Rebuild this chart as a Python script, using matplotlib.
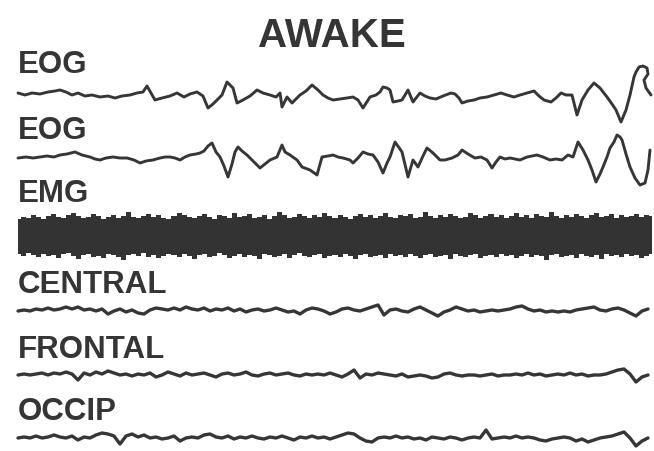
import numpy as np
import matplotlib
matplotlib.use("Agg")
import matplotlib.pyplot as plt

# ---- recorded channels (time in samples, deflection positive = up) ----
eog1_t = [18, 25, 32, 40, 48, 55, 60, 66, 72, 78, 85, 92, 100, 108, 115, 122, 130, 137, 143, 147,
          151, 155, 162, 170, 177, 184, 190, 197, 203, 208, 213, 217, 222, 227, 233, 237, 243, 250,
          257, 263, 270, 276, 280, 282, 287, 292, 300, 306, 312, 318, 323, 328, 333, 340, 347, 353,
          358, 363, 370, 376, 380, 383, 387, 390, 393, 398, 402, 408, 413, 420, 425, 430, 436, 443,
          451, 455, 459, 462, 468, 474, 480, 487, 494, 501, 507, 514, 520, 527, 534, 539, 544, 551,
          556, 561, 566, 572, 577, 582, 588, 594, 600, 607, 612, 616, 621, 626, 630, 634, 636, 639,
          643, 647, 648, 644, 646, 651]
eog1 = [3, 1, 3, 2, 4, 5, 6, 4, 1, 3, 0, 1, -1, 0, -2, 0, 1, 3, 4, 10,
        3, -4, -2, 0, 3, -1, 2, 4, 0, -12, -8, -4, 1, 14, 8, -7, -4, 0,
        6, 3, 1, -1, 3, -11, -1, -7, 1, 5, 11, 6, 1, -2, -4, -3, -2, -1,
        -4, -12, -1, 1, 4, 9, 8, 6, -6, -5, -4, 6, -6, 3, 0, -2, -3, 0,
        3, 2, -2, -7, -5, -4, -2, -1, 1, 3, 1, -1, 1, 3, 5, 0, -4, -6,
        -2, 3, 1, 1, -19, -4, 6, 13, 8, -1, -8, -14, -26, -14, 1, 19, 24, 29,
        30, 28, 22, 16, 8, 1]

eog2_t = [18, 26, 33, 40, 47, 54, 60, 67, 75, 82, 90, 95, 100, 106, 113, 120, 127, 134, 140, 146,
          153, 160, 165, 170, 175, 180, 185, 190, 196, 200, 204, 208, 212, 216, 220, 224, 228, 232,
          235, 238, 242, 247, 253, 260, 265, 270, 277, 282, 285, 290, 297, 302, 310, 317, 322, 328,
          333, 338, 343, 350, 353, 358, 363, 368, 373, 378, 383, 387, 390, 395, 400, 402, 408, 413,
          418, 423, 427, 433, 440, 445, 452, 458, 462, 468, 475, 481, 487, 492, 496, 500, 505, 510,
          515, 520, 527, 532, 537, 543, 550, 556, 562, 568, 573, 578, 583, 588, 592, 596, 600, 603,
          607, 610, 614, 617, 620, 622, 626, 630, 635, 640, 645, 648, 650]
eog2 = [0, 1, 0, 1, 2, 1, 3, 4, 6, 3, 1, -1, -2, 0, 1, 0, 0, -2, -5, -3,
        -2, 0, 1, 1, 0, -2, 1, 3, 4, 5, 7, 12, 15, 6, 1, -8, -19, -6,
        6, 11, 7, 3, -3, -10, -6, -2, 1, 13, 6, 3, -2, -9, -12, -17, 1, 2,
        3, 1, 0, -2, -5, 0, 6, 4, 3, -4, -15, -5, 1, 16, 9, 6, -19, -2,
        -9, 2, 10, 5, -2, -2, 0, 3, 8, 4, 0, 1, -2, -10, -4, 1, -1, 0,
        -1, -2, 1, 2, 3, 1, -2, -1, -2, 3, 1, 16, 8, -2, -12, -24, -16, -9,
        1, 10, 16, 23, 21, 18, 4, -9, -20, -27, -25, -12, 8]

# EMG envelope (upper / lower edge of the tonic muscle activity band)
emg_hi = [17, 19, 18, 21, 19, 17, 20, 22, 19, 18, 21, 23, 20, 18, 19, 22, 20, 17, 19, 21,
          18, 20, 24, 19, 18, 20, 22, 19, 21, 18, 17, 20, 23, 21, 19, 18, 20, 22, 19, 17,
          21, 20, 18, 23, 19, 20, 22, 18, 19, 21, 17, 20, 24, 21, 18, 19, 22, 20, 18, 21,
          19, 23, 20, 18, 21, 19, 17, 20, 22, 19, 21, 18, 20, 23, 19, 18, 21, 20, 22, 18,
          19, 24, 20, 18, 21, 19, 22, 20, 18, 19, 23, 21, 18, 20, 22, 19, 21, 18, 20, 23,
          19, 21, 18, 22, 20, 19, 24, 20, 18, 21, 19, 22, 20, 18, 21, 23, 19, 20, 22, 18,
          21, 19, 20, 22, 19, 21, 20]
emg_lo = [-18, -20, -17, -19, -21, -18, -20, -19, -22, -18, -17, -20, -23, -19, -18, -21, -20, -22, -18, -19,
          -21, -24, -19, -18, -20, -17, -21, -19, -22, -20, -18, -19, -21, -18, -20, -23, -19, -18, -21, -20,
          -17, -19, -22, -20, -18, -21, -19, -20, -23, -18, -19, -21, -20, -18, -22, -19, -17, -20, -21, -19,
          -18, -22, -20, -19, -21, -18, -20, -23, -19, -18, -21, -20, -19, -22, -18, -20, -19, -21, -18, -20,
          -22, -19, -18, -21, -20, -19, -23, -18, -20, -21, -19, -18, -22, -20, -19, -21, -18, -20, -19, -22,
          -20, -18, -21, -19, -20, -24, -19, -18, -21, -20, -19, -22, -18, -20, -21, -19, -23, -18, -20, -19,
          -21, -18, -20, -19, -22, -20, -18]

central = [0, 1, 0, 2, 1, 3, 1, 2, 4, 2, 4, 1, 2, 0, 2, -3, 0, 2, -1, 1,
           -2, -3, 1, 3, 2, 1, 3, 1, 4, 2, 1, 3, 0, 2, 1, 3, 0, 2, -1, 1,
           2, 0, 1, 3, 1, -1, 0, -3, 1, 3, 2, 0, -3, -1, 2, 3, 1, 0, 2, 4,
           6, -4, 1, 2, 0, -1, 2, 4, 1, -2, -5, -1, 1, 4, 2, 0, 1, -1, 0, 1,
           0, 1, 2, 4, 5, 2, 0, 1, -1, 0, -1, 0, -1, 1, 2, 3, 4, 1, 0, 2,
           3, 1, -2, -5, 0, 2]
frontal = [0, 1, 0, 1, 2, 0, 2, 1, 3, 1, -5, 2, 0, 3, 1, 4, 2, 0, 1, -1,
           1, 0, 2, -2, 0, 3, 1, -1, 2, 0, 1, 2, 0, -2, 1, 2, 0, 1, 3, 0,
           -1, 1, 2, 0, 1, 2, 0, -1, 1, 0, 1, 0, 2, 0, -2, 1, 5, -3, 1, 0,
           2, 1, 0, -1, 1, -2, -1, 0, -1, -3, -2, 1, 2, 0, -1, 0, 0, -1, 0, 1,
           -1, 0, 0, 1, 0, 2, 0, 1, -1, 0, 1, 0, 2, 0, 1, -1, 0, 0, 1, 3,
           5, 6, 1, -7, -2, 0]
occip = [0, 1, 0, 2, 0, 1, 3, 1, 0, 2, -2, 1, 0, 3, 5, 4, 2, -6, 2, 4,
         1, 3, 0, 1, -1, 0, 2, -3, 0, 1, 0, 3, 4, 1, 0, 2, -1, 1, 0, 2,
         0, -1, 1, 0, 2, 0, -2, 1, 0, 2, 0, 1, -1, 1, 3, 5, 4, 0, -3, -4,
         0, 1, 0, 2, 0, 1, -1, 0, -2, 1, 0, -1, 1, 0, -2, 0, 1, 0, 8, -1,
         0, 1, 0, 2, 0, 1, 0, -2, -3, -1, 0, 1, 0, -3, -1, -4, -2, 0, 1, 2,
         4, 6, 0, -8, -3, 0]

channel_names = ["EOG", "EOG", "EMG", "CENTRAL", "FRONTAL", "OCCIP"]
title = "AWAKE"

# ---- layout ----
W, H = 654, 451
fig = plt.figure(figsize=(W / 100, H / 100), dpi=100)
ax = fig.add_axes([0, 0, 1, 1])
ax.set_xlim(0, W)
ax.set_ylim(H, 0)
ax.axis("off")

ink = "#363636"
text_ink = "#353535"

# baselines of each trace and label baselines
trace_base = {"eog1": 96, "eog2": 158, "emg": 236, "central": 311, "frontal": 375, "occip": 438}
label_base = [73, 139, 202, 293, 358, 420]

line_kw = dict(color=ink, solid_joinstyle="round", solid_capstyle="round")
ax.plot(eog1_t, trace_base["eog1"] - np.asarray(eog1), lw=2.1, **line_kw)
ax.plot(eog2_t, trace_base["eog2"] - np.asarray(eog2), lw=2.1, **line_kw)

t_emg = np.linspace(18, 652, len(emg_hi))
t_emg_lo = np.linspace(18, 652, len(emg_lo))
lo_interp = np.interp(t_emg, t_emg_lo, emg_lo)
ax.fill_between(t_emg, trace_base["emg"] - np.asarray(emg_hi), trace_base["emg"] - lo_interp,
                step="mid", color="#333333", lw=0)

for name, data in (("central", central), ("frontal", frontal), ("occip", occip)):
    t = np.linspace(18, 648, len(data))
    ax.plot(t, trace_base[name] - np.asarray(data), lw=2.4, **line_kw)

font = ["Liberation Sans", "DejaVu Sans"]
for name, yb in zip(channel_names, label_base):
    ax.text(18, yb, name, family=font, fontsize=22.5, fontweight="bold",
            color=text_ink, ha="left", va="baseline")

ax.text(332, 47, title, family=font, fontsize=29, fontweight="bold",
        color=text_ink, ha="center", va="baseline")

fig.savefig("out.png", dpi=100, facecolor="white")
